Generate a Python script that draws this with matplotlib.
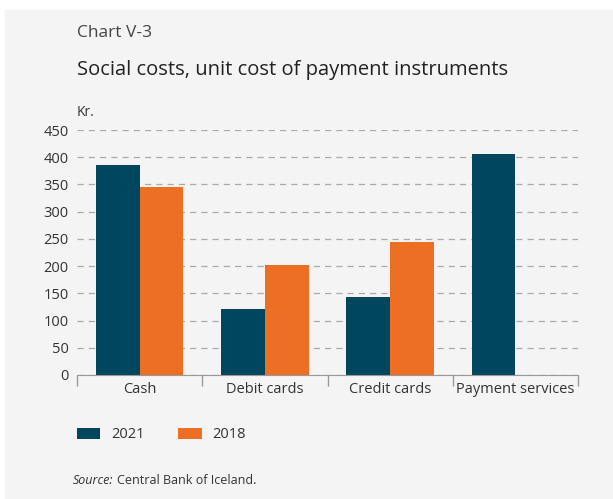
import matplotlib.pyplot as plt
import matplotlib.patches as mpatches
import numpy as np

plt.rcParams['font.family'] = ['Open Sans', 'DejaVu Sans']

categories = ['Cash', 'Debit cards', 'Credit cards', 'Payment services']
values_2021 = [386, 121, 143, 406]
values_2018 = [345, 202, 245, np.nan]
yticks = [0, 50, 100, 150, 200, 250, 300, 350, 400, 450]

c_2021 = '#00465e'
c_2018 = '#ec6f24'
bg = '#f4f4f4'
text_c = '#333333'

W, H = 613, 499
fig = plt.figure(figsize=(W / 100, H / 100), dpi=100)
fig.patch.set_facecolor('white')
# grey panel, leaving a thin white margin on top and left
fig.patches.append(mpatches.Rectangle((5 / W, 0), 1 - 5 / W, 1 - 10 / H,
                                      transform=fig.transFigure, color=bg, zorder=-1))

ax = fig.add_axes([77 / W, (H - 375) / H, 501 / W, 245 / H])
ax.set_zorder(2)
ax.set_facecolor(bg)

x = np.arange(len(categories))
bw = 0.35
ax.bar(x - bw / 2, values_2021, bw, color=c_2021, label='2021', zorder=3)
ax.bar(x + bw / 2, values_2018, bw, color=c_2018, label='2018', zorder=3)

ax.set_xlim(-0.5, len(categories) - 0.5)
ax.set_ylim(0, 450)
ax.set_yticks(yticks)
ax.yaxis.grid(True, color='#aaaaaa', linestyle=(0, (5, 4)), linewidth=0.9)
ax.set_axisbelow(True)

for s in ['top', 'right', 'left']:
    ax.spines[s].set_visible(False)
ax.spines['bottom'].set_color('#999999')
ax.spines['bottom'].set_zorder(4)

ax.set_xticks(x)
ax.set_xticklabels(categories)
ax.set_xticks(np.arange(len(categories) + 1) - 0.5, minor=True)
ax.tick_params(axis='x', which='major', length=0, pad=5, labelsize=10.5, labelcolor=text_c)
ax.tick_params(axis='x', which='minor', length=8, color='#999999', width=1)
ax.tick_params(axis='y', length=0, pad=6, labelsize=10.5, labelcolor=text_c)

fig.text(77 / W, 1 - 33 / H, 'Chart V-3', fontsize=12.5, color='#444444', va='center')
fig.text(77 / W, 1 - 70 / H, 'Social costs, unit cost of payment instruments',
         fontsize=14.5, color='#222222', va='center')
fig.text(77 / W, 1 - 112 / H, 'Kr.', fontsize=10, color=text_c, va='center')

leg = fig.legend(loc='center left', bbox_to_anchor=(64 / W, 1 - 435 / H), ncol=2,
                 frameon=False, fontsize=10.5, handlelength=1.6, handleheight=0.7,
                 columnspacing=2.3, handletextpad=0.75, labelcolor=text_c)

fig.text(73 / W, 1 - 481 / H, 'Source:', fontsize=9, style='italic', color=text_c, va='center')
fig.text(117 / W, 1 - 481 / H, 'Central Bank of Iceland.', fontsize=9, color=text_c, va='center')

fig.savefig('out.png', dpi=100, facecolor=fig.get_facecolor())
